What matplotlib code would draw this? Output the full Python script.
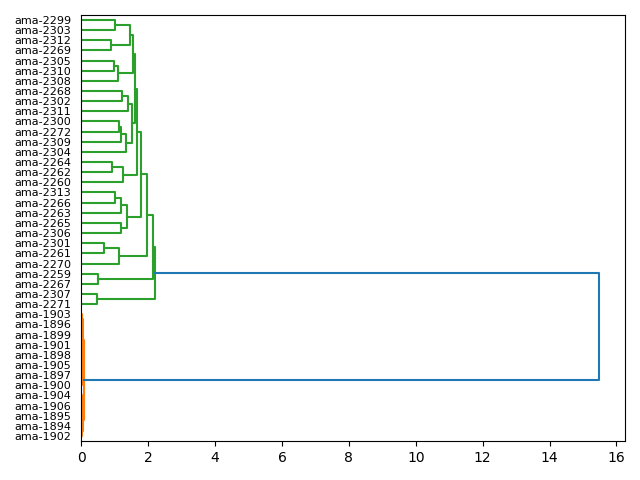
import numpy as np
import matplotlib
matplotlib.use('Agg')
import matplotlib.pyplot as plt

# merges: (child_a, child_b, height); int = earlier merge row, str = leaf label
# child_a is drawn above child_b
merges = [
    ('ama-2299', 'ama-2303', 1.02),   # 0
    ('ama-2312', 'ama-2269', 0.90),   # 1
    (0, 1, 1.47),                     # 2
    ('ama-2305', 'ama-2310', 0.98),   # 3
    (3, 'ama-2308', 1.10),            # 4
    (2, 4, 1.54),                     # 5
    ('ama-2268', 'ama-2302', 1.22),   # 6
    (6, 'ama-2311', 1.40),            # 7
    ('ama-2300', 'ama-2272', 1.14),   # 8
    (8, 'ama-2309', 1.19),            # 9
    (9, 'ama-2304', 1.35),            # 10
    (7, 10, 1.51),                    # 11
    (5, 11, 1.62),                    # 12
    ('ama-2264', 'ama-2262', 0.93),   # 13
    (13, 'ama-2260', 1.26),           # 14
    (12, 14, 1.66),                   # 15
    ('ama-2313', 'ama-2266', 1.00),   # 16
    (16, 'ama-2263', 1.19),           # 17
    ('ama-2265', 'ama-2306', 1.20),   # 18
    (17, 18, 1.37),                   # 19
    (15, 19, 1.80),                   # 20
    ('ama-2301', 'ama-2261', 0.68),   # 21
    (21, 'ama-2270', 1.13),           # 22
    (20, 22, 1.96),                   # 23
    ('ama-2259', 'ama-2267', 0.51),   # 24
    (23, 24, 2.14),                   # 25
    ('ama-2307', 'ama-2271', 0.48),   # 26
    (25, 26, 2.21),                   # 27
    ('ama-1903', 'ama-1896', 0.02),   # 28
    ('ama-1901', 'ama-1898', 0.01),   # 29
    ('ama-1899', 29, 0.02),           # 30
    ('ama-1905', 'ama-1897', 0.01),   # 31
    (31, 'ama-1900', 0.02),           # 32
    (30, 32, 0.03),                   # 33
    (28, 33, 0.04),                   # 34
    ('ama-1904', 'ama-1906', 0.01),   # 35
    (35, 'ama-1895', 0.02),           # 36
    ('ama-1894', 'ama-1902', 0.01),   # 37
    (36, 37, 0.04),                   # 38
    (34, 38, 0.07),                   # 39
    (27, 39, 15.49),                  # 40
]
palette = ['C1', 'C2']
above_color = 'C0'


def leaf_order(node):
    if isinstance(node, str):
        return [node]
    a, b, h = merges[node]
    return leaf_order(a) + leaf_order(b)


root = len(merges) - 1
leaves = leaf_order(root)
n = len(leaves)
leaf_y = {lab: 10 * n - 5 - 10 * i for i, lab in enumerate(leaves)}
threshold = 0.7 * max(m[2] for m in merges)

# colour clusters below the threshold, bottom cluster first
clusters = []


def find_clusters(node):
    if isinstance(node, str):
        return
    a, b, h = merges[node]
    if h < threshold:
        clusters.append(node)
    else:
        find_clusters(b)
        find_clusters(a)


find_clusters(root)
node_color = {}


def paint(node, c):
    if isinstance(node, str):
        return
    node_color[node] = c
    a, b, h = merges[node]
    paint(a, c)
    paint(b, c)


for k, cl in enumerate(clusters):
    paint(cl, palette[k % len(palette)])

fig, ax = plt.subplots(figsize=(6.4, 4.8), dpi=100)


def draw(node):
    if isinstance(node, str):
        return leaf_y[node], 0.0
    a, b, h = merges[node]
    ya, ha = draw(a)
    yb, hb = draw(b)
    ax.plot([ha, h, h, hb], [ya, ya, yb, yb], color=node_color.get(node, above_color), lw=1.5)
    return (ya + yb) / 2, h


draw(root)

ax.set_ylim(0, 10 * n)
ax.set_xlim(0, max(m[2] for m in merges) * 1.05)
ax.set_yticks([leaf_y[l] for l in leaves])
ax.set_yticklabels(leaves, fontsize=8)
for t in ax.get_yticklines():
    t.set_visible(False)
ax.set_xticks(np.arange(0, 17, 2))

plt.subplots_adjust(left=0.127, right=0.977, bottom=0.081, top=0.969)
plt.savefig('out.png')
